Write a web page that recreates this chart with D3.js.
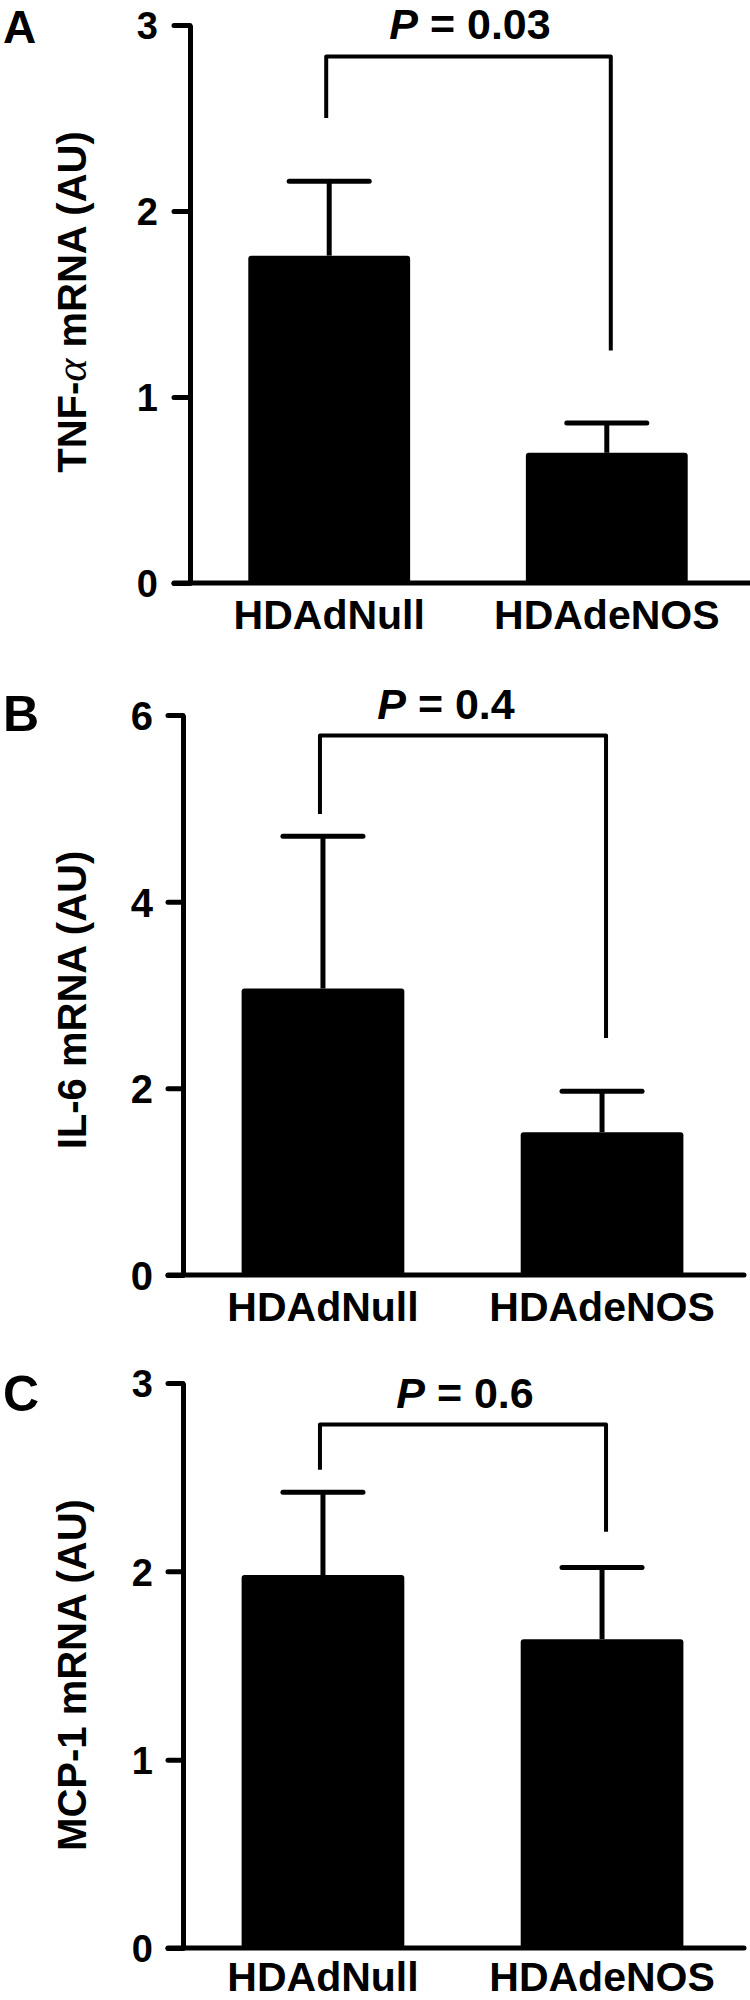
<!DOCTYPE html>
<html>
<head>
<meta charset="utf-8">
<script src="https://cdn.jsdelivr.net/npm/d3@7"></script>
<style>
  html, body { margin: 0; padding: 0; background: #fff; }
  svg { display: block; }
  text { font-family: "Liberation Sans", Arial, Helvetica, sans-serif; font-weight: bold; fill: #000; }
</style>
</head>
<body>
<svg id="chart" width="750" height="2000"></svg>
<script>
// ---- data ----
const categories = ["HDAdNull", "HDAdeNOS"];

const tnfMean = [1.76, 0.70];
const tnfSem  = [0.40, 0.16];
const tnfTicks = [0, 1, 2, 3];

const il6Mean = [3.07, 1.53];
const il6Sem  = [1.63, 0.44];
const il6Ticks = [0, 2, 4, 6];

const mcpMean = [1.98, 1.64];
const mcpSem  = [0.44, 0.38];
const mcpTicks = [0, 1, 2, 3];

const panelLetters = ["A", "B", "C"];
const pValues = ["0.03", "0.4", "0.6"];
// bracket: [height of horizontal, left leg end, right leg end] in data units
const tnfBracket = [2.83, 2.50, 1.25];
const il6Bracket = [5.78, 4.94, 2.54];
const mcpBracket = [2.78, 2.54, 2.21];

// ---- layout ----
const panels = [
  { letter: panelLetters[0], mean: tnfMean, sem: tnfSem, ticks: tnfTicks, bracket: tnfBracket, p: pValues[0],
    label: "TNF", top: 25, bottom: 583, axisX: 190, xEnd: 750, rangeEnd: 746, tickLen: 16, tickOff: 32, tickFont: 38,
    letterSize: 46, xPad: 17, pX: 470, pY: 39, letterY: 43, labelY: 302 },
  { letter: panelLetters[1], mean: il6Mean, sem: il6Sem, ticks: il6Ticks, bracket: il6Bracket, p: pValues[1],
    label: "IL-6 mRNA (AU)", top: 715, bottom: 1275, axisX: 183, xEnd: 744, rangeEnd: 742, tickLen: 15, tickOff: 30, tickFont: 40,
    letterSize: 50, xPad: 17, pX: 446, pY: 719, letterY: 731, labelY: 1000 },
  { letter: panelLetters[2], mean: mcpMean, sem: mcpSem, ticks: mcpTicks, bracket: mcpBracket, p: pValues[2],
    label: "MCP-1 mRNA (AU)", top: 1383, bottom: 1948, axisX: 183, xEnd: 744, rangeEnd: 742, tickLen: 15, tickOff: 30, tickFont: 38,
    letterSize: 50, xPad: 14, pX: 465, pY: 1408, letterY: 1411, labelY: 1675 }
];

const svg = d3.select("#chart");

panels.forEach(pn => {
  const g = svg.append("g");
  const yMax = pn.ticks[pn.ticks.length - 1];
  const y = d3.scaleLinear().domain([0, yMax]).range([pn.bottom, pn.top]);
  const x = d3.scaleBand().domain(categories).range([pn.axisX, pn.rangeEnd])
    .paddingInner(0.417).paddingOuter(0.21);

  // bars
  g.selectAll("rect.bar").data(categories).join("rect")
    .attr("class", "bar")
    .attr("x", d => x(d))
    .attr("width", x.bandwidth())
    .attr("y", (d, i) => y(pn.mean[i]))
    .attr("height", (d, i) => y(0) - y(pn.mean[i]))
    .attr("rx", 3)
    .attr("fill", "#000");

  // error bars
  const capHalf = 40;
  categories.forEach((c, i) => {
    const cx = x(c) + x.bandwidth() / 2;
    g.append("line")
      .attr("x1", cx).attr("x2", cx)
      .attr("y1", y(pn.mean[i])).attr("y2", y(pn.mean[i] + pn.sem[i]))
      .attr("stroke", "#000").attr("stroke-width", 5);
    g.append("line")
      .attr("x1", cx - capHalf).attr("x2", cx + capHalf)
      .attr("y1", y(pn.mean[i] + pn.sem[i])).attr("y2", y(pn.mean[i] + pn.sem[i]))
      .attr("stroke", "#000").attr("stroke-width", 5).attr("stroke-linecap", "round");
  });

  // x axis line
  g.append("line")
    .attr("x1", pn.axisX - pn.tickLen).attr("x2", pn.xEnd)
    .attr("y1", y(0)).attr("y2", y(0))
    .attr("stroke", "#000").attr("stroke-width", 5).attr("stroke-linecap", "round");

  // y axis
  const yAxis = d3.axisLeft(y).tickValues(pn.ticks).tickFormat(d3.format("d"))
    .tickSize(pn.tickLen).tickSizeOuter(0).tickPadding(pn.tickOff - pn.tickLen);
  const ya = g.append("g").attr("transform", `translate(${pn.axisX},0)`).call(yAxis);
  ya.select(".domain").attr("stroke", "#000").attr("stroke-width", 5);
  ya.selectAll(".tick line").attr("stroke", "#000").attr("stroke-width", 5).attr("stroke-linecap", "round");
  ya.selectAll(".tick text").attr("font-size", pn.tickFont).attr("font-family", null).attr("dy", "0.36em");

  // x axis labels
  const xAxis = d3.axisBottom(x).tickSize(0).tickPadding(pn.xPad);
  const xa = g.append("g").attr("transform", `translate(0,${y(0)})`).call(xAxis);
  xa.select(".domain").remove();
  xa.selectAll(".tick text").attr("font-size", 41).attr("font-family", null);

  // y label
  const yl = g.append("text")
    .attr("transform", `translate(86,${pn.labelY}) rotate(-90)`)
    .attr("text-anchor", "middle")
    .attr("font-size", 40);
  if (pn.label === "TNF") {
    yl.append("tspan").text("TNF-");
    yl.append("tspan").text("α").attr("font-family", "'Liberation Serif', 'DejaVu Serif', serif")
      .attr("font-style", "italic").attr("font-weight", "normal").attr("font-size", 44);
    yl.append("tspan").text(" mRNA (AU)");
  } else {
    yl.text(pn.label);
  }

  // panel letter
  g.append("text").attr("x", 3).attr("y", pn.letterY).attr("font-size", pn.letterSize).text(pn.letter);

  // significance bracket
  const xl = x(categories[0]) + x.bandwidth() / 2 - 3;
  const xr = x(categories[1]) + x.bandwidth() / 2 + 4;
  const path = d3.path();
  path.moveTo(xl, y(pn.bracket[1]));
  path.lineTo(xl, y(pn.bracket[0]));
  path.lineTo(xr, y(pn.bracket[0]));
  path.lineTo(xr, y(pn.bracket[2]));
  g.append("path").attr("d", path.toString())
    .attr("fill", "none").attr("stroke", "#000").attr("stroke-width", 4)
    .attr("stroke-linejoin", "round");

  // P value text
  const pt = g.append("text").attr("x", pn.pX).attr("y", pn.pY)
    .attr("text-anchor", "middle").attr("font-size", 43);
  pt.append("tspan").attr("font-style", "italic").text("P");
  pt.append("tspan").text(" = " + pn.p);
});
</script>
</body>
</html>
